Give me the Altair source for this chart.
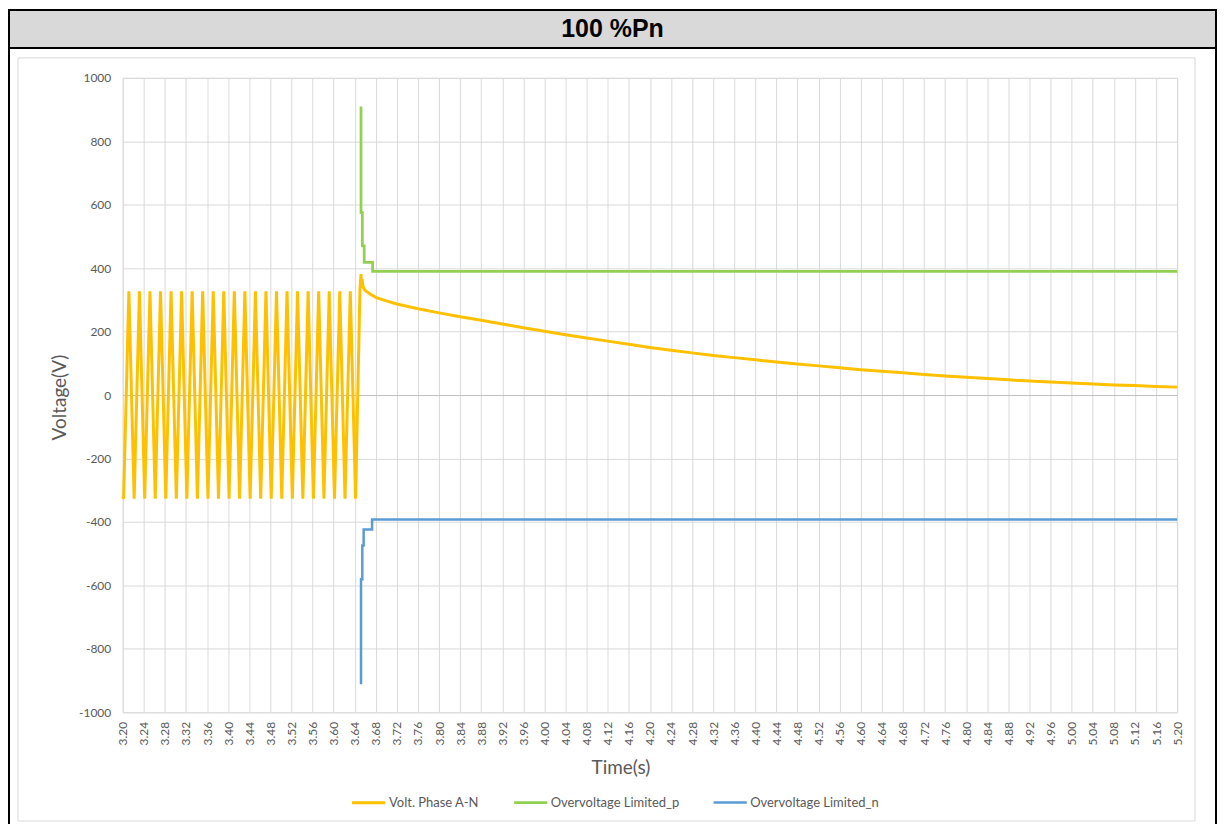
import altair as alt
import pandas as pd

TITLE = "100 %Pn"
SERIES = ["Volt. Phase A-N", "Overvoltage Limited_p", "Overvoltage Limited_n"]
COLORS = ["#FFC000", "#92D050", "#5B9BD5"]
WIDTHS = [3.0, 2.5, 2.5]

# Volt. Phase A-N : 50 Hz wave (extrema), then the decay
volt_t = [3.2000, 3.2017, 3.2117, 3.2217, 3.2317, 3.2417, 3.2517, 3.2617, 3.2717,
          3.2817, 3.2917, 3.3017, 3.3117, 3.3217, 3.3317, 3.3417, 3.3517, 3.3617,
          3.3717, 3.3817, 3.3917, 3.4017, 3.4117, 3.4217, 3.4317, 3.4417, 3.4517,
          3.4617, 3.4717, 3.4817, 3.4917, 3.5017, 3.5117, 3.5217, 3.5317, 3.5417,
          3.5517, 3.5617, 3.5717, 3.5817, 3.5917, 3.6017, 3.6117, 3.6217, 3.6317,
          3.6417,
          3.6500, 3.6520, 3.6530, 3.6540, 3.6560, 3.6600, 3.6700, 3.6800, 3.7000,
          3.7200, 3.7600, 3.8000, 3.8400, 3.8800, 3.9200, 3.9600, 4.0000, 4.0400,
          4.0800, 4.1200, 4.1600, 4.2000, 4.2400, 4.2800, 4.3200, 4.3600, 4.4000,
          4.4400, 4.4800, 4.5200, 4.5600, 4.6000, 4.6400, 4.6800, 4.7200, 4.7600,
          4.8000, 4.8400, 4.8800, 4.9200, 4.9600, 5.0000, 5.0400, 5.0800, 5.1200,
          5.1600, 5.2000]
volt_v = [-320, -327, 327, -327, 327, -327, 327, -327, 327,
          -327, 327, -327, 327, -327, 327, -327, 327, -327,
          327, -327, 327, -327, 327, -327, 327, -327, 327,
          -327, 327, -327, 327, -327, 327, -327, 327, -327,
          327, -327, 327, -327, 327, -327, 327, -327, 327,
          -327,
          330, 381, 352, 365, 340, 330, 318, 308, 297,
          287, 272, 259, 247, 236, 224, 212, 201, 190,
          180, 170, 160, 150, 141, 133, 125, 118, 111,
          104, 98, 92, 86, 80, 75, 70, 65, 60,
          56, 52, 48, 44, 41, 38, 35, 32, 30,
          27, 25]

# Overvoltage Limited_p
ovp_t = [3.652, 3.652, 3.6545, 3.6545, 3.658, 3.658, 3.674, 3.674, 5.200]
ovp_v = [910, 575, 575, 470, 470, 418, 418, 390, 390]

# Overvoltage Limited_n
ovn_t = [3.652, 3.652, 3.6545, 3.6545, 3.657, 3.657, 3.673, 3.673, 5.200]
ovn_v = [-912, -581, -581, -474, -474, -424, -424, -392, -392]

x_ticks = [3.20, 3.24, 3.28, 3.32, 3.36, 3.40, 3.44, 3.48, 3.52, 3.56, 3.60,
           3.64, 3.68, 3.72, 3.76, 3.80, 3.84, 3.88, 3.92, 3.96, 4.00, 4.04,
           4.08, 4.12, 4.16, 4.20, 4.24, 4.28, 4.32, 4.36, 4.40, 4.44, 4.48,
           4.52, 4.56, 4.60, 4.64, 4.68, 4.72, 4.76, 4.80, 4.84, 4.88, 4.92,
           4.96, 5.00, 5.04, 5.08, 5.12, 5.16, 5.20]
y_ticks = [-1000, -800, -600, -400, -200, 0, 200, 400, 600, 800, 1000]

rows = []
for name, ts, vs in zip(SERIES, [volt_t, ovp_t, ovn_t], [volt_v, ovp_v, ovn_v]):
    for i, (t, v) in enumerate(zip(ts, vs)):
        rows.append({"series": name, "t": t, "v": v, "i": i})
df = pd.DataFrame(rows)

W, H = 1057, 636
PAD_L, PAD_T = 115, 69
TOTAL_W, TOTAL_H = 1212, 816
FONT = "Lato"
GREY_TXT = "#595959"

one = alt.Data(values=[{}])

outer = alt.Chart(one).mark_rect(fill="white", fillOpacity=0, stroke="black", strokeWidth=2).encode(
    x=alt.value(-PAD_L + 1), x2=alt.value(TOTAL_W - PAD_L - 1),
    y=alt.value(-PAD_T + 1), y2=alt.value(TOTAL_H - PAD_T + 30))

title_bar = alt.Chart(one).mark_rect(fill="#D9D9D9", stroke="black", strokeWidth=2).encode(
    x=alt.value(-PAD_L + 1), x2=alt.value(TOTAL_W - PAD_L - 1),
    y=alt.value(-PAD_T + 1), y2=alt.value(-30))

inner_box = alt.Chart(one).mark_rect(fill="white", fillOpacity=0, stroke="#D9D9D9", strokeWidth=1).encode(
    x=alt.value(-105), x2=alt.value(1075), y=alt.value(-20), y2=alt.value(TOTAL_H - PAD_T - 2))

title_txt = alt.Chart(alt.Data(values=[{"label": TITLE}])).mark_text(
    font="Liberation Sans", fontSize=25, fontWeight="bold", color="black",
    align="center", baseline="middle").encode(
    text="label:N", x=alt.value(491), y=alt.value(-49))

lines = alt.Chart(df).mark_line(strokeJoin="miter").encode(
    x=alt.X("t:Q", scale=alt.Scale(domain=[3.2, 5.2], nice=False, zero=False),
            axis=alt.Axis(values=x_ticks, format=".2f", labelAngle=270, labelAlign="right",
                          labelBaseline="middle", labelPadding=9, labelOverlap=False,
                          labelFlush=False, ticks=False, domain=False, grid=True,
                          gridColor="#D9D9D9", gridWidth=1,
                          labelFont=FONT, labelFontSize=12, labelColor=GREY_TXT,
                          title="Time(s)", titleFont=FONT, titleFontSize=19,
                          titleFontWeight="normal", titleColor=GREY_TXT,
                          titleX=499, titleY=55, titleBaseline="middle", titleAlign="center")),
    y=alt.Y("v:Q", scale=alt.Scale(domain=[-1000, 1000], nice=False),
            axis=alt.Axis(values=y_ticks, labelExpr="'' + datum.value", labelPadding=12,
                          ticks=False, domain=False, grid=True,
                          gridColor={"condition": {"test": "datum.value === 0", "value": "#BFBFBF"},
                                     "value": "#D9D9D9"},
                          gridWidth=1, labelFont=FONT, labelFontSize=12, labelColor=GREY_TXT,
                          labelFlush=False, labelOverlap=False,
                          title="Voltage(V)", titleFont=FONT, titleFontSize=19,
                          titleFontWeight="normal", titleColor=GREY_TXT, titleAngle=270,
                          titleX=-63, titleY=320, titleBaseline="middle", titleAlign="center")),
    color=alt.Color("series:N", scale=alt.Scale(domain=SERIES, range=COLORS),
                    legend=alt.Legend(title=None, orient="none", legendX=228, legendY=708,
                                      direction="horizontal", symbolType="stroke",
                                      symbolSize=1100, symbolStrokeWidth=2.5,
                                      labelFont=FONT, labelFontSize=13, labelColor=GREY_TXT,
                                      labelOffset=2, columnPadding=28)),
    strokeWidth=alt.StrokeWidth("series:N", scale=alt.Scale(domain=SERIES, range=WIDTHS),
                                legend=None),
    order=alt.Order("i:Q"),
)

chart = alt.layer(outer, title_bar, inner_box, lines, title_txt).properties(
    width=W, height=H,
    autosize=alt.AutoSizeParams(type="none"),
    padding={"left": PAD_L, "top": PAD_T, "right": TOTAL_W - PAD_L - W,
             "bottom": TOTAL_H - PAD_T - H},
).configure_view(stroke=None).configure(background="white")

chart.save("out.html", embed_options={"renderer": "svg", "actions": False})
